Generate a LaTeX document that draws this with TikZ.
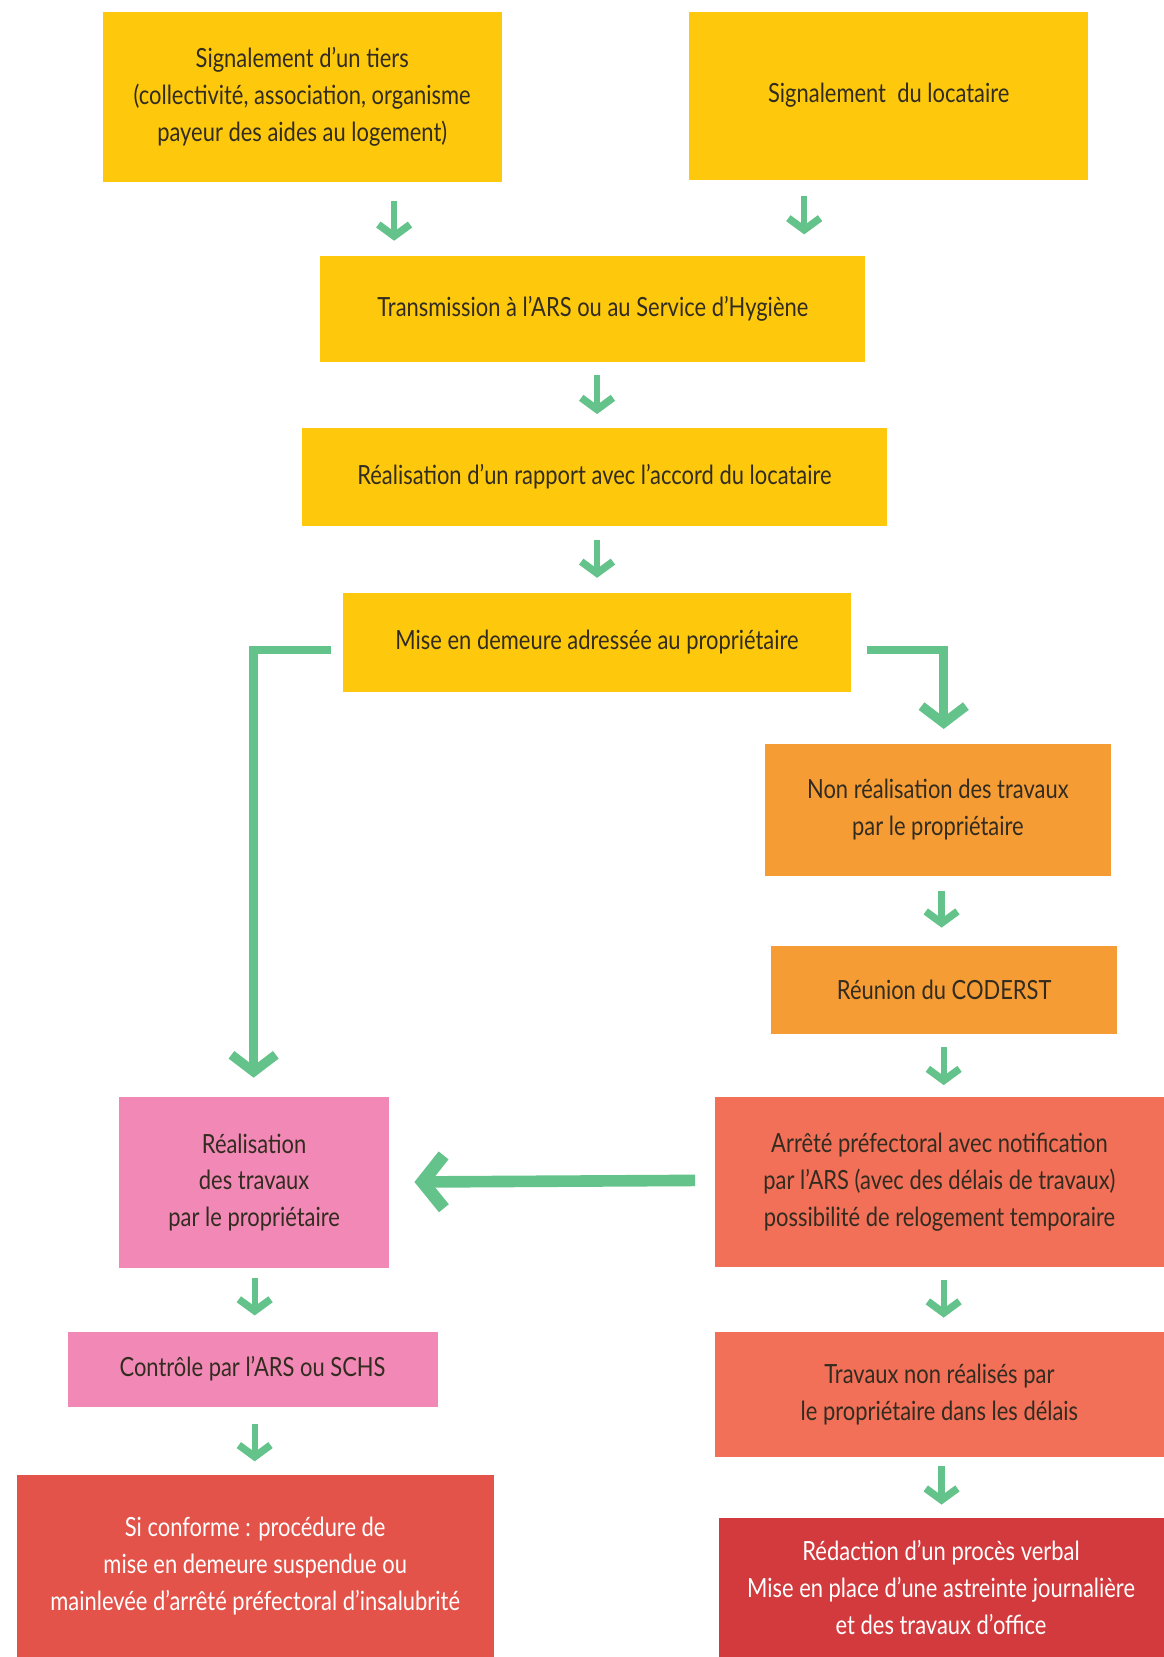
\documentclass[tikz,border=0pt]{standalone}
\usepackage{fontspec}
\setmainfont[FakeStretch=0.83]{Lato}
\usetikzlibrary{arrows.meta}
\definecolor{cyellow}{RGB}{254,201,13}
\definecolor{corange}{RGB}{246,156,53}
\definecolor{csalmon}{RGB}{242,111,88}
\definecolor{cpink}{RGB}{242,136,181}
\definecolor{cred}{RGB}{228,83,74}
\definecolor{cdred}{RGB}{210,58,61}
\definecolor{cgreen}{RGB}{100,194,139}
\definecolor{ctext}{RGB}{50,44,32}
\begin{document}
\begin{tikzpicture}[x=1pt,y=1pt,
  box/.style={rectangle, inner sep=0pt, align=center, text=ctext,
    font=\fontsize{25}{35}\selectfont},
  wbox/.style={box, text=white},
  arr/.style={draw=cgreen, line width=6pt,
    -{Straight Barb[length=11pt,width=30pt,line width=7pt]}},
  barr/.style={draw=cgreen, line width=8pt,
    -{Straight Barb[length=16pt,width=42pt,line width=9pt]}},
  larr/.style={draw=cgreen, line width=11pt,
    -{Straight Barb[length=20pt,width=50pt,line width=12pt]}}
]
\useasboundingbox (0,0) rectangle (1101,-1568);

\node[box, fill=cyellow, minimum width=378pt, minimum height=161pt] (b1) at (286,-91.5)
  {Signalement d'un tiers\\(collectivité, association, organisme\\payeur des aides au logement)};
\node[box, fill=cyellow, minimum width=378pt, minimum height=159pt] (b2) at (841,-90.5)
  {\raisebox{-4pt}{Signalement\ \ du locataire}};
\node[box, fill=cyellow, minimum width=516pt, minimum height=101pt] (b3) at (561,-292.5)
  {Transmission à l'ARS ou au Service d'Hygiène};
\node[box, fill=cyellow, minimum width=553pt, minimum height=93pt] (b4) at (562.5,-451.5)
  {\raisebox{-3pt}{Réalisation d'un rapport avec l'accord du locataire}};
\node[box, fill=cyellow, minimum width=480pt, minimum height=94pt] (b5) at (565,-608)
  {Mise en demeure adressée au propriétaire};
\node[box, fill=corange, minimum width=327pt, minimum height=125pt] (b6) at (887.5,-766.5)
  {Non réalisation des travaux\\par le propriétaire};
\node[box, fill=corange, minimum width=327pt, minimum height=83pt] (b7) at (893.5,-936.5)
  {Réunion du CODERST};
\node[box, fill=csalmon, minimum width=424pt, minimum height=161pt] (b8) at (889,-1118.5)
  {Arrêté préfectoral avec notification\\par l'ARS (avec des délais de travaux)\\possibilité de relogement temporaire};
\node[box, fill=cpink, minimum width=255pt, minimum height=162pt] (b9) at (240.5,-1119)
  {Réalisation\\des travaux\\par le propriétaire};
\node[box, fill=cpink, minimum width=350pt, minimum height=71pt] (b10) at (239,-1295.5)
  {\raisebox{-3pt}{Contrôle par l'ARS ou SCHS}};
\node[wbox, fill=cred, minimum width=451pt, minimum height=172pt] (b11) at (241.5,-1482)
  {Si conforme : procédure de\\mise en demeure suspendue ou\\mainlevée d'arrêté préfectoral d'insalubrité};
\node[box, fill=csalmon, minimum width=424pt, minimum height=119pt] (b12) at (889,-1319.5)
  {Travaux non réalisés par\\le propriétaire dans les délais};
\node[wbox, fill=cdred, minimum width=421pt, minimum height=132pt] (b13) at (890.5,-1502)
  {Rédaction d'un procès verbal\\Mise en place d'une astreinte journalière\\et des travaux d'office};

% short arrows
\draw[arr] ([xshift=87pt,yshift=-18pt]b1.south) -- ([xshift=-188pt,yshift=14pt]b3.north);
\draw[arr] ([xshift=-80pt,yshift=-15pt]b2.south) -- ([xshift=200pt,yshift=20pt]b3.north);
\draw[arr] ([xshift=4pt,yshift=-12pt]b3.south) -- ([xshift=2.5pt,yshift=13pt]b4.north);
\draw[arr] ([xshift=2.5pt,yshift=-13pt]b4.south) -- ([yshift=14pt]b5.north);
\draw[arr] ([xshift=3.5pt,yshift=-14pt]b6.south) -- ([xshift=-2.5pt,yshift=17pt]b7.north);
\draw[arr] ([xshift=-0.5pt,yshift=-13pt]b7.south) -- ([xshift=4pt,yshift=11pt]b8.north);
\draw[arr] ([xshift=0.5pt,yshift=-9pt]b9.south) -- ([xshift=2pt,yshift=15pt]b10.north);
\draw[arr] ([xshift=4pt,yshift=-12pt]b8.south) -- ([xshift=4pt,yshift=13pt]b12.north);
\draw[arr] ([xshift=2pt,yshift=-16pt]b10.south) -- ([xshift=-0.5pt,yshift=13pt]b11.north);
\draw[arr] ([xshift=2pt,yshift=-8pt]b12.south) -- ([xshift=0.5pt,yshift=12pt]b13.north);

% bent arrows
\coordinate (lc) at (240,-615);
\coordinate (rc) at (893,-615);
\draw[barr] ([xshift=-12pt,yshift=-7pt]b5.west) -- (lc) -- ([yshift=18pt]b9.north -| lc);
\draw[barr] ([xshift=15pt,yshift=-7pt]b5.east) -- (rc) -- ([yshift=14pt]b6.north -| rc);
% long left arrow
\draw[larr] ([xshift=-19pt,yshift=1.5pt]b8.west) -- ([xshift=24pt]b9.east |- b8.west);
\end{tikzpicture}
\end{document}
